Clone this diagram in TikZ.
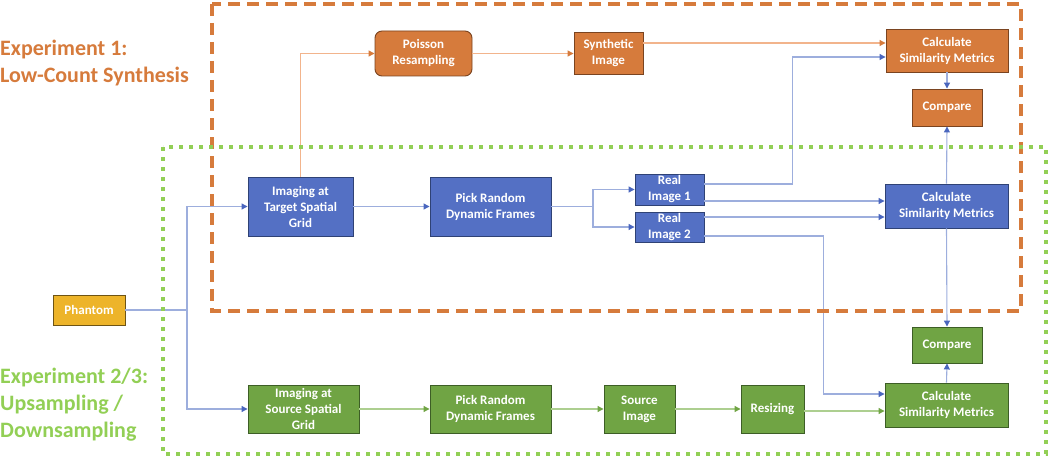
\documentclass[tikz,border=0pt]{standalone}
\usepackage{fontspec}
\setmainfont{Carlito}
\usetikzlibrary{arrows.meta}
\definecolor{ofill}{HTML}{D67B3C}
\definecolor{odraw}{HTML}{7A4420}
\definecolor{oline}{HTML}{F2B48C}
\definecolor{bfill}{HTML}{5470C4}
\definecolor{bdraw}{HTML}{2F4275}
\definecolor{bline}{HTML}{9DAEDD}
\definecolor{btip}{HTML}{4A66BE}
\definecolor{gfill}{HTML}{70A444}
\definecolor{gdraw}{HTML}{3D5E26}
\definecolor{gline}{HTML}{ADCF90}
\definecolor{gtip}{HTML}{70A444}
\definecolor{yfill}{HTML}{EDB42A}
\definecolor{ydraw}{HTML}{6E5414}
\definecolor{lgreen}{HTML}{92CF55}
\tikzset{
  box/.style={draw, line width=0.9pt, text=white, align=center, inner sep=1pt,
    font=\fontsize{13}{16}\selectfont\bfseries},
  obox/.style={box, fill=ofill, draw=odraw},
  bbox/.style={box, fill=bfill, draw=bdraw},
  gbox/.style={box, fill=gfill, draw=gdraw},
  ybox/.style={box, fill=yfill, draw=ydraw},
  bcon/.style={draw=bline, line width=1.1pt, -{Triangle[length=6pt,width=6pt,color=btip]}},
  bconn/.style={draw=bline, line width=1.1pt},
  ocon/.style={draw=oline, line width=1.1pt, -{Triangle[length=6pt,width=6pt,color=ofill]}},
  gcon/.style={draw=gline, line width=1.1pt, -{Triangle[length=6pt,width=6pt,color=gtip]}},
}
\begin{document}
\begin{tikzpicture}[x=1pt,y=-1pt]
\useasboundingbox (0,0) rectangle (1052,460);
% titles
\node[anchor=west, align=left, inner sep=0, text=ofill,
  font=\fontsize{22}{27}\selectfont\bfseries] (t1) at (0,63.5)
  {Experiment 1:\\Low-Count Synthesis};
\node[anchor=west, align=left, inner sep=0, text=lgreen,
  font=\fontsize{22}{27}\selectfont\bfseries] (t2) at (0,405)
  {Experiment 2/3:\\Upsampling /\\Downsampling};
% nodes
\node[obox, rounded corners=7pt, minimum width=97pt, minimum height=45pt] (pois) at (423.5,53.5) {Poisson\\Resampling};
\node[obox, minimum width=69pt, minimum height=42pt] (synth) at (608.5,53) {Synthetic\\Image};
\node[obox, minimum width=122pt, minimum height=43pt] (calcO) at (947,50.5) {Calculate\\Similarity Metrics};
\node[obox, minimum width=70pt, minimum height=37pt] (cmpO) at (947,107.5) {Compare};
\node[bbox, minimum width=105pt, minimum height=59pt] (imgT) at (300.5,206.5) {Imaging at\\Target Spatial\\Grid};
\node[bbox, minimum width=121pt, minimum height=59pt] (pickB) at (490.5,206.5) {Pick Random\\Dynamic Frames};
\node[bbox, minimum width=69pt, minimum height=31pt] (real1) at (669.5,189.5) {Real\\Image 1};
\node[bbox, minimum width=69pt, minimum height=30pt] (real2) at (669.5,227) {Real\\Image 2};
\node[bbox, minimum width=123pt, minimum height=44pt] (calcB) at (946.5,206) {Calculate\\Similarity Metrics};
\node[ybox, minimum width=72pt, minimum height=30pt] (phantom) at (89,310) {Phantom};
\node[gbox, minimum width=111pt, minimum height=48pt] (imgS) at (303.5,409) {Imaging at\\Source Spatial\\Grid};
\node[gbox, minimum width=121pt, minimum height=48pt] (pickG) at (490.5,409) {Pick Random\\Dynamic Frames};
\node[gbox, minimum width=71pt, minimum height=48pt] (src) at (639.5,409) {Source\\Image};
\node[gbox, minimum width=63pt, minimum height=48pt] (resz) at (772.5,409) {Resizing};
\node[gbox, minimum width=123pt, minimum height=44pt] (calcG) at (946.5,405) {Calculate\\Similarity Metrics};
\node[gbox, minimum width=70pt, minimum height=36pt] (cmpG) at (947,345) {Compare};
% connectors
\coordinate (split) at (187,310);
\coordinate (split2) at (593,206.5);
\draw[bconn] (phantom.east) -- (split);
\draw[bcon] (split) |- (imgT.west);
\draw[bcon] (split) |- (imgS.west);
\draw[ocon] (imgT.north) |- (pois.west);
\draw[ocon] (pois.east) -- (pois.east -| synth.west);
\draw[ocon] ([yshift=10pt]synth.east) -- ([yshift=10pt]synth.east -| calcO.west);
\draw[bcon] (imgT.east) -- (pickB.west);
\draw[bconn] (pickB.east) -- (split2);
\draw[bcon] (split2) |- (real1.west);
\draw[bcon] (split2) |- (real2.west);
\draw[bcon] ([yshift=5.5pt]real1.east) -- ++(88,0) |- ([yshift=-6.5pt]calcO.west);
\draw[bcon] ([yshift=-11.5pt]real1.east) -- ([yshift=-11.5pt]real1.east -| calcB.west);
\draw[bcon] ([yshift=10pt]real2.east) -- ([yshift=10pt]real2.east -| calcB.west);
\draw[bcon] ([yshift=-9pt]real2.east) -- ++(119,0) |- ([yshift=11pt]calcG.west);
\draw[bcon] (calcO.south) -- (cmpO.north);
\draw[bcon] (calcB.north) -- (cmpO.south);
\draw[bcon] (calcB.south) -- (cmpG.north);
\draw[bcon] (calcG.north) -- (cmpG.south);
\draw[gcon] (imgS.east) -- (pickG.west);
\draw[gcon] (pickG.east) -- (src.west);
\draw[gcon] (src.east) -- (resz.west);
\draw[gcon] ([yshift=-2pt]resz.east) -- ([yshift=-2pt]resz.east -| calcG.west);
% frames
\draw[ofill, line width=4.5pt, dash pattern=on 12pt off 7pt] (212,4) rectangle (1021,311);
\draw[lgreen, line width=4pt, dash pattern=on 4pt off 6pt] (163,147) rectangle (1046,454);
\end{tikzpicture}
\end{document}
